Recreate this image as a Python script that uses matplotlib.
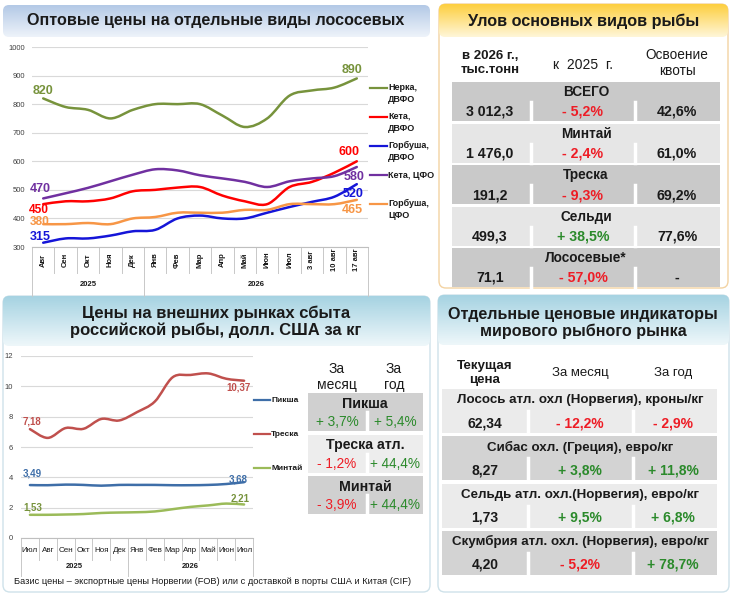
import numpy as np
import matplotlib
matplotlib.use("Agg")
import matplotlib.pyplot as plt
from matplotlib.patches import FancyBboxPatch, Rectangle, PathPatch
from matplotlib.path import Path
from matplotlib.colors import LinearSegmentedColormap
from matplotlib.transforms import blended_transform_factory

plt.rcParams['font.family'] = ['Liberation Sans', 'DejaVu Sans']

W, H = 733, 596

# --- wholesale salmon prices (top left)
top_months = ["Авг", "Сен", "Окт", "Ноя", "Дек", "Янв", "Фев", "Мар", "Апр",
              "Май", "Июн", "Июл", "3 авг", "10 авг", "17 авг"]
top_years = [("2025", 5), ("2026", 10)]
nerka_dvfo = [820, 790, 780, 750, 780, 800, 800, 800, 760, 720, 750, 830, 848, 858, 890]
keta_dvfo = [450, 460, 460, 470, 495, 500, 508, 510, 480, 460, 450, 510, 528, 560, 600]
gorb_dvfo = [315, 330, 330, 340, 355, 360, 400, 410, 400, 400, 420, 440, 458, 476, 520]
keta_cfo = [470, 488, 507, 530, 553, 572, 568, 551, 540, 528, 510, 530, 540, 548, 580]
gorb_cfo = [380, 380, 384, 380, 400, 405, 420, 420, 420, 430, 430, 450, 450, 450, 465]

# --- catch table (top right)
catch_species = ["ВСЕГО", "Минтай", "Треска", "Сельди", "Лососевые*"]
catch_volume = ["3 012,3", "1 476,0", "191,2", "499,3", "71,1"]
catch_change = ["- 5,2%", "- 2,4%", "- 9,3%", "+ 38,5%", "- 57,0%"]
catch_quota = ["42,6%", "61,0%", "69,2%", "77,6%", "-"]

# --- export prices (bottom left)
ext_months = ["Июл", "Авг", "Сен", "Окт", "Ноя", "Дек", "Янв", "Фев", "Мар",
              "Апр", "Май", "Июн", "Июл"]
ext_years = [("2025", 6), ("2026", 7)]
treska = [7.18, 6.6, 7.25, 7.2, 7.85, 7.75, 8.3, 9.0, 10.6, 10.75, 10.85, 10.5, 10.37]
piksha = [3.49, 3.48, 3.52, 3.5, 3.45, 3.5, 3.5, 3.5, 3.48, 3.48, 3.5, 3.56, 3.68]
mintai = [1.53, 1.53, 1.55, 1.58, 1.65, 1.68, 1.7, 1.75, 1.9, 2.05, 2.15, 2.27, 2.21]
ext_species = ["Пикша", "Треска атл.", "Минтай"]
ext_month = ["+ 3,7%", "- 1,2%", "- 3,9%"]
ext_year = ["+ 5,4%", "+ 44,4%", "+ 44,4%"]

# --- world market indicators (bottom right)
world_items = ["Лосось атл. охл (Норвегия), кроны/кг",
               "Сибас охл. (Греция), евро/кг",
               "Сельдь атл. охл.(Норвегия), евро/кг",
               "Скумбрия атл. охл. (Норвегия), евро/кг"]
world_price = ["62,34", "8,27", "1,73", "4,20"]
world_month = ["- 12,2%", "+ 3,8%", "+ 9,5%", "- 5,2%"]
world_year = ["- 2,9%", "+ 11,8%", "+ 6,8%", "+ 78,7%"]

RED = "#ee1c25"
GREEN = "#2b8a2b"
TXT = "#1a1a1a"


def sign_color(s):
    return RED if s.startswith("-") else GREEN


fig = plt.figure(figsize=(7.33, 5.96), dpi=100)
bg = fig.add_axes([0, 0, 1, 1])
bg.set_xlim(0, W)
bg.set_ylim(H, 0)
bg.axis("off")


def grad_box(x0, y0, x1, y1, c_top, c_bot, r=6):
    patch = FancyBboxPatch((x0, y0), x1 - x0, y1 - y0,
                           boxstyle=f"round,pad=0,rounding_size={r}",
                           fc="none", ec="none")
    bg.add_patch(patch)
    cmap = LinearSegmentedColormap.from_list("g", [c_top, c_bot])
    im = bg.imshow(np.linspace(0, 1, 64)[:, None], cmap=cmap,
                   extent=(x0, x1, y1, y0), aspect="auto", zorder=1)
    im.set_clip_path(patch)


def panel(x0, y0, x1, y1, ec):
    bg.add_patch(FancyBboxPatch((x0, y0), x1 - x0, y1 - y0,
                                boxstyle="round,pad=0,rounding_size=7",
                                fc="white", ec=ec, lw=1.0, zorder=0.5))


def chart_axes(x0, y0, x1, y1):
    ax = fig.add_axes([x0 / W, 1 - y1 / H, (x1 - x0) / W, (y1 - y0) / H])
    ax.patch.set_visible(False)
    return ax


def smooth_line(ax, ys, color, lw):
    x = np.arange(len(ys), dtype=float)
    y = np.asarray(ys, dtype=float)
    n = len(x)
    verts = [(x[0], y[0])]
    codes = [Path.MOVETO]
    for i in range(n - 1):
        i0, i3 = max(i - 1, 0), min(i + 2, n - 1)
        c1 = (x[i] + (x[i + 1] - x[i0]) / 6, y[i] + (y[i + 1] - y[i0]) / 6)
        c2 = (x[i + 1] - (x[i3] - x[i]) / 6, y[i + 1] - (y[i3] - y[i]) / 6)
        verts += [c1, c2, (x[i + 1], y[i + 1])]
        codes += [Path.CURVE4] * 3
    ax.add_patch(PathPatch(Path(verts, codes), fill=False, ec=color, lw=lw,
                           capstyle="round", joinstyle="round"))


def style_chart(ax, ymin, ymax, step, n, pad):
    ax.set_xlim(-0.5, n - 0.5)
    ax.set_ylim(ymin, ymax)
    ax.set_yticks(np.arange(ymin, ymax + step, step))
    ax.grid(axis="y", color="#d9d9d9", lw=0.8)
    ax.set_axisbelow(True)
    for s in ["top", "right", "left"]:
        ax.spines[s].set_visible(False)
    ax.spines["bottom"].set_color("#bfbfbf")
    ax.set_xticks([])
    ax.tick_params(axis="y", length=0, labelsize=5.5, labelcolor="#404040", pad=pad)


def cat_axis(ax, labels, years, y_axis, y_cat, y_year, t_cat, t_year, rot, fs, weight):
    tr = blended_transform_factory(ax.transData, bg.transData)
    n = len(labels)
    lc = "#c8c8c8"
    for i, lab in enumerate(labels):
        ax.text(i, t_cat, lab, transform=tr, rotation=rot, ha="center", va="center",
                fontsize=fs, fontweight=weight, color=TXT)
    for b in np.arange(n + 1) - 0.5:
        ax.plot([b, b], [y_axis, y_cat], transform=tr, color=lc, lw=0.7, clip_on=False)
    start = 0
    for name, cnt in years:
        ax.text(start + cnt / 2 - 0.5, t_year, name, transform=tr, ha="center",
                va="center", fontsize=5.5, fontweight="bold", color=TXT)
        ax.plot([start - 0.5] * 2, [y_cat, y_year], transform=tr, color=lc, lw=0.7,
                clip_on=False)
        start += cnt
    ax.plot([n - 0.5] * 2, [y_cat, y_year], transform=tr, color=lc, lw=0.7, clip_on=False)


def label(ax, i, v, s, color, dx, dy, fs):
    ax.annotate(s, (i, v), xytext=(dx * 0.72, -dy * 0.72), textcoords="offset points",
                ha="center", va="center", fontsize=fs, fontweight="bold", color=color,
                annotation_clip=False)


# ================= panel backgrounds
panel(439, 4, 728, 288, "#f3d3a3")
panel(3, 296, 430, 592, "#cfe2ea")
panel(438, 295, 729, 592, "#cfe2ea")
grad_box(3, 5, 430, 37, "#b3c9e6", "#eef3fa")
grad_box(439, 4, 728, 37, "#fdcf3f", "#fff6d8")
grad_box(3, 296, 430, 346, "#a6d3e2", "#eef7fa")
grad_box(438, 295, 729, 345, "#a6d3e2", "#eef7fa")

bg.text(216, 21, "Оптовые цены на отдельные виды лососевых", ha="center", va="center",
        fontsize=11.6, fontweight="bold", color=TXT)
bg.text(584, 21, "Улов основных видов рыбы", ha="center", va="center",
        fontsize=11.7, fontweight="bold", color=TXT)
bg.text(216, 322, "Цены на внешних рынках сбыта\nроссийской рыбы, долл. США за кг",
        ha="center", va="center", fontsize=12, fontweight="bold", color=TXT,
        linespacing=1.15)
bg.text(583, 323, "Отдельные ценовые индикаторы\nмирового рыбного рынка",
        ha="center", va="center", fontsize=11.6, fontweight="bold", color=TXT,
        linespacing=1.15)

# ================= top-left chart
ax1 = chart_axes(32, 47, 368, 247)
style_chart(ax1, 300, 1000, 100, len(top_months), 5)
series_top = [
    (nerka_dvfo, "#77933c", "Нерка,\nДВФО", 88),
    (keta_dvfo, "#ff0000", "Кета,\nДВФО", 117),
    (gorb_dvfo, "#1515d8", "Горбуша,\nДВФО", 146),
    (keta_cfo, "#7030a0", "Кета, ЦФО", 175),
    (gorb_cfo, "#f79646", "Горбуша,\nЦФО", 204),
]
for ys, c, name, ly in series_top:
    smooth_line(ax1, ys, c, 1.8)
    bg.plot([370, 387], [ly, ly], color=c, lw=1.6)
    if "\n" in name:
        bg.text(388, ly - 5.5, name, ha="left", va="top", fontsize=6.5,
                fontweight="bold", color=TXT, linespacing=1.45)
    else:
        bg.text(388, ly, name, ha="left", va="center", fontsize=6.5,
                fontweight="bold", color=TXT)
cat_axis(ax1, top_months, top_years, 247, 273, 296, 260, 285, 90, 5.5, "bold")

last = len(top_months) - 1
label(ax1, 0, nerka_dvfo[0], "820", "#77933c", 0, -7, 9)
label(ax1, last, nerka_dvfo[-1], "890", "#77933c", -5, -8, 9)
label(ax1, last, keta_dvfo[-1], "600", "#ff0000", -8, -9, 9)
label(ax1, last, keta_cfo[-1], "580", "#7030a0", -3, 10, 9)
label(ax1, last, gorb_dvfo[-1], "520", "#1515d8", -4, 10, 9)
label(ax1, last, gorb_cfo[-1], "465", "#f79646", -4, 10, 9)
label(ax1, 0, keta_cfo[0], "470", "#7030a0", -3, -9, 9)
label(ax1, 0, keta_dvfo[0], "450", "#ff0000", -4, 6, 8.6)
label(ax1, 0, gorb_cfo[0], "380", "#f79646", -3, -2, 8.6)
label(ax1, 0, gorb_dvfo[0], "315", "#1515d8", -3, -6, 9)

# ================= top-right table
bg.text(490, 63, "в 2026 г.,\nтыс.тонн", ha="center", va="center", fontsize=9.5,
        fontweight="bold", color=TXT, linespacing=1.2)
bg.text(583, 65, "к  2025  г.", ha="center", va="center", fontsize=10, color=TXT)
bg.text(677, 63, "Освоение\nквоты", ha="center", va="center", fontsize=9.8, color=TXT,
        linespacing=1.15)
for i, sp in enumerate(catch_species):
    top = 82 + i * 41.5
    bg.add_patch(Rectangle((452, top), 268, 39, fc="#c9c9c9" if i % 2 == 0 else "#e6e6e6",
                           ec="none", zorder=1))
    for sx in (531, 635):
        bg.plot([sx, sx], [top + 20, top + 39], color="white", lw=2.5, zorder=2)
    bg.text(586, top + 10, sp, ha="center", va="center", fontsize=9.8, fontweight="bold",
            color=TXT, zorder=3)
    bg.text(490, top + 30, catch_volume[i], ha="center", va="center", fontsize=10.2,
            fontweight="bold", color=TXT, zorder=3)
    bg.text(583, top + 30, catch_change[i], ha="center", va="center", fontsize=10.2,
            fontweight="bold", color=sign_color(catch_change[i]), zorder=3)
    bg.text(677, top + 30, catch_quota[i], ha="center", va="center", fontsize=10.2,
            fontweight="bold", color=TXT, zorder=3)

# ================= bottom-left chart
ax2 = chart_axes(21, 356, 253, 538)
style_chart(ax2, 0, 12, 2, len(ext_months), 5.8)
series_ext = [
    (piksha, "#3e6ea8", "Пикша", 400),
    (treska, "#c0504d", "Треска", 434),
    (mintai, "#9bbb59", "Минтай", 468),
]
for ys, c, name, ly in series_ext:
    smooth_line(ax2, ys, c, 1.8)
    bg.plot([254, 270], [ly, ly], color=c, lw=1.6)
    bg.text(271, ly, name, ha="left", va="center", fontsize=6, fontweight="bold",
            color=TXT)
cat_axis(ax2, ext_months, ext_years, 538, 560, 576, 550, 567, 0, 5.8, "normal")

last = len(ext_months) - 1
label(ax2, 0, treska[0], "7,18", "#c0504d", 2, -8, 7)
label(ax2, last, treska[-1], "10,37", "#c0504d", -6, 7, 7)
label(ax2, 0, piksha[0], "3,49", "#3e6ea8", 2, -12, 7)
label(ax2, last, piksha[-1], "3,68", "#3e6ea8", -6, -3, 7)
label(ax2, 0, mintai[0], "1,53", "#77933c", 3, -7.5, 7)
label(ax2, last, mintai[-1], "2,21", "#77933c", -4, -6, 7)

bg.text(337, 377, "За\nмесяц", ha="center", va="center", fontsize=10, color=TXT,
        linespacing=1.1)
bg.text(394, 377, "За\nгод", ha="center", va="center", fontsize=10, color=TXT,
        linespacing=1.1)
for i, sp in enumerate(ext_species):
    top = 393 + i * 41.5
    bg.add_patch(Rectangle((308, top), 115, 38, fc="#d0d0d0" if i % 2 == 0 else "#ededed",
                           ec="none", zorder=1))
    bg.plot([367, 367], [top + 19, top + 38], color="white", lw=2.5, zorder=2)
    bg.text(365, top + 11, sp, ha="center", va="center", fontsize=10.2, fontweight="bold",
            color=TXT, zorder=3)
    bg.text(337, top + 29, ext_month[i], ha="center", va="center", fontsize=9.8,
            color=sign_color(ext_month[i]), zorder=3)
    bg.text(395, top + 29, ext_year[i], ha="center", va="center", fontsize=9.8,
            color=sign_color(ext_year[i]), zorder=3)

bg.text(14, 582, "Базис цены – экспортные цены Норвегии (FOB) или с доставкой в порты "
        "США и Китая (CIF)", ha="left", va="center", fontsize=6.7, color=TXT)

# ================= bottom-right table
bg.text(485, 373, "Текущая\nцена", ha="center", va="center", fontsize=9.6,
        fontweight="bold", color=TXT, linespacing=1.15)
bg.text(580, 373, "За месяц", ha="center", va="center", fontsize=9.5, color=TXT)
bg.text(673, 373, "За год", ha="center", va="center", fontsize=9.5, color=TXT)
for i, item in enumerate(world_items):
    top = 389 + i * 47.3
    bg.add_patch(Rectangle((442, top), 275, 44, fc="#ebebeb" if i % 2 == 0 else "#d3d3d3",
                           ec="none", zorder=1))
    for sx in (528, 633):
        bg.plot([sx, sx], [top + 22, top + 44], color="white", lw=2.5, zorder=2)
    bg.text(580, top + 11, item, ha="center", va="center", fontsize=9.6, fontweight="bold",
            color=TXT, zorder=3)
    bg.text(485, top + 34, world_price[i], ha="center", va="center", fontsize=10,
            fontweight="bold", color=TXT, zorder=3)
    bg.text(580, top + 34, world_month[i], ha="center", va="center", fontsize=10,
            fontweight="bold", color=sign_color(world_month[i]), zorder=3)
    bg.text(673, top + 34, world_year[i], ha="center", va="center", fontsize=10,
            fontweight="bold", color=sign_color(world_year[i]), zorder=3)

bg.set_xlim(0, W)
bg.set_ylim(H, 0)
fig.savefig("out.png", dpi=100)
